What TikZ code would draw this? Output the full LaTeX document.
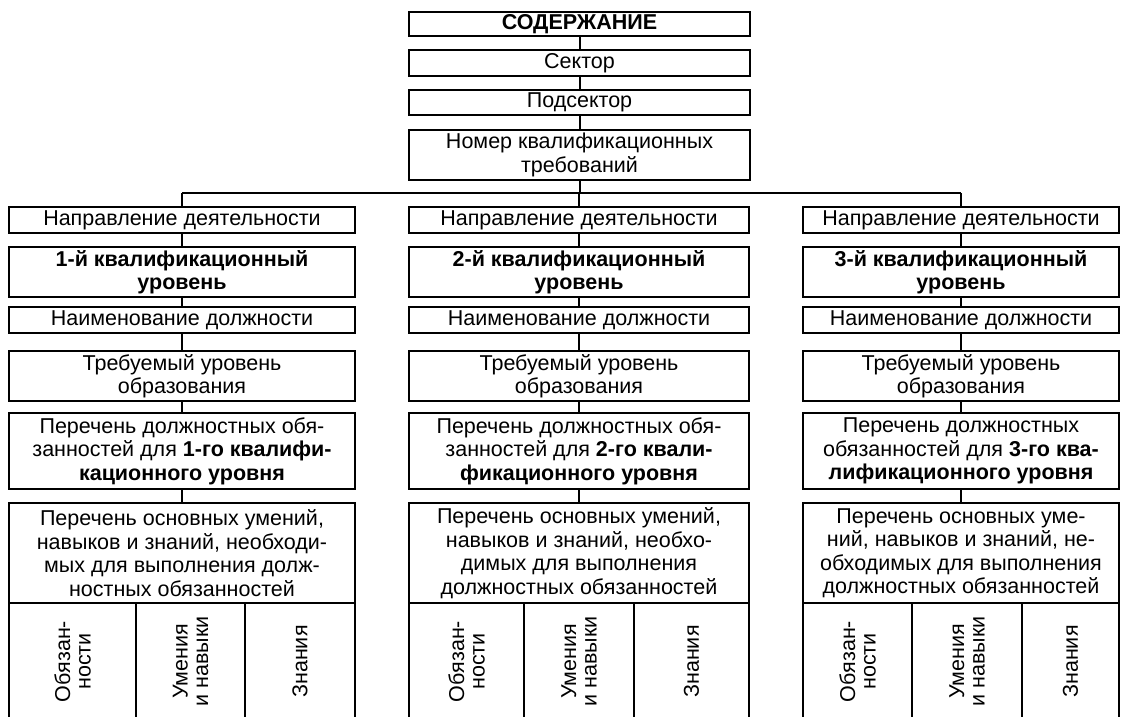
\documentclass[tikz,border=0pt]{standalone}
\usepackage{fontspec}
\setmainfont{Liberation Sans}
% box given by its corners: name, x1, y1, x2, y2, text
\newcommand\placebox[6]{%
  \node[frame, minimum width={(#4)-(#2)}, minimum height={(#5)-(#3)}]
    (#1) at ({((#2)+(#4))/2},{((#3)+(#5))/2}) {#6};}
% cell with text running bottom to top
\newcommand\placecell[6]{%
  \node[cell, minimum width={(#5)-(#3)}, minimum height={(#4)-(#2)}]
    (#1) at ({((#2)+(#4))/2},{((#3)+(#5))/2}) {#6};}
\begin{document}
\begin{tikzpicture}[x=1pt,y=-1pt,
  frame/.style={draw, line width=2.6pt, rectangle, inner sep=0pt, align=center,
    font=\fontsize{21.5}{23.5}\selectfont},
  cell/.style={frame, rotate=90, font=\fontsize{21.5}{20.5}\selectfont},
  link/.style={line width=2pt}]
\useasboundingbox (0,0) rectangle (1121,716);

% header chain
\placebox{t1}{409}{12}{750}{36}{\textbf{СОДЕРЖАНИЕ}}
\placebox{t2}{409}{50}{750}{76}{Сектор}
\placebox{t3}{409}{90}{750}{115}{Подсектор}
\placebox{t4}{409}{130}{750}{180}{Номер квалификационных\\требований}

% column 1
\placebox{a1}{9}{207}{355}{233}{Направление деятельности}
\placebox{a2}{9}{247}{355}{297}{\textbf{1-й квалификационный}\\\textbf{уровень}}
\placebox{a3}{9}{307}{355}{333}{Наименование должности}
\placebox{a4}{9}{351}{355}{401}{Требуемый уровень\\образования}
\placebox{a5}{9}{413}{355}{489}{Перечень должностных обя-\\занностей для \textbf{1-го квалифи-}\\\textbf{кационного уровня}}
\placebox{a6}{9}{503}{355}{603}{Перечень основных умений,\\навыков и знаний, необходи-\\мых для выполнения долж-\\ностных обязанностей}
\placecell{a7}{9}{603}{136}{720}{Обязан-\\ности}
\placecell{a8}{136}{603}{245}{720}{Умения\\и навыки}
\placecell{a9}{245}{603}{355}{720}{Знания}

% column 2
\placebox{b1}{409}{207}{749}{233}{Направление деятельности}
\placebox{b2}{409}{247}{749}{297}{\textbf{2-й квалификационный}\\\textbf{уровень}}
\placebox{b3}{409}{307}{749}{333}{Наименование должности}
\placebox{b4}{409}{351}{749}{401}{Требуемый уровень\\образования}
\placebox{b5}{409}{413}{749}{489}{Перечень должностных обя-\\занностей для \textbf{2-го квали-}\\\textbf{фикационного уровня}}
\placebox{b6}{409}{503}{749}{603}{Перечень основных умений,\\навыков и знаний, необхо-\\димых для выполнения\\должностных обязанностей}
\placecell{b7}{409}{603}{524}{720}{Обязан-\\ности}
\placecell{b8}{524}{603}{634}{720}{Умения\\и навыки}
\placecell{b9}{634}{603}{749}{720}{Знания}

% column 3
\placebox{c1}{803}{207}{1119}{233}{Направление деятельности}
\placebox{c2}{803}{247}{1119}{297}{\textbf{3-й квалификационный}\\\textbf{уровень}}
\placebox{c3}{803}{307}{1119}{333}{Наименование должности}
\placebox{c4}{803}{351}{1119}{401}{Требуемый уровень\\образования}
\placebox{c5}{803}{413}{1119}{489}{Перечень должностных\\обязанностей для \textbf{3-го ква-}\\\textbf{лификационного уровня}}
\placebox{c6}{803}{503}{1119}{603}{Перечень основных уме-\\ний, навыков и знаний, не-\\обходимых для выполнения\\должностных обязанностей}
\placecell{c7}{803}{603}{912}{720}{Обязан-\\ности}
\placecell{c8}{912}{603}{1022}{720}{Умения\\и навыки}
\placecell{c9}{1022}{603}{1119}{720}{Знания}

% connectors
\coordinate (bus) at (0,193);
\draw[link] (t1.south) -- (t2.north);
\draw[link] (t2.south) -- (t3.north);
\draw[link] (t3.south) -- (t4.north);
\draw[link] (t4.south) -- (t4.south |- bus);
\draw[link] (a1.north |- bus) -- (c1.north |- bus);
\draw[link] (a1.north |- bus) -- (a1.north);
\draw[link] (b1.north |- bus) -- (b1.north);
\draw[link] (c1.north |- bus) -- (c1.north);
\foreach \k in {a,b,c}{
  \draw[link] (\k1.south) -- (\k2.north);
  \draw[link] (\k2.south) -- (\k3.north);
  \draw[link] (\k3.south) -- (\k4.north);
  \draw[link] (\k4.south) -- (\k5.north);
  \draw[link] (\k5.south) -- (\k6.north);
}
\end{tikzpicture}
\end{document}
